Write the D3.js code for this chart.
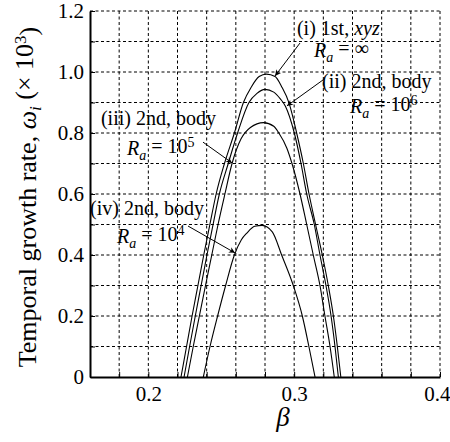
<!DOCTYPE html>
<html>
<head>
<meta charset="utf-8">
<script src="https://cdn.jsdelivr.net/npm/d3@7"></script>
<style>
  body { margin: 0; background: #fff; }
  svg { display: block; }
  text { font-family: "Liberation Serif", "Times New Roman", serif; fill: #000; }
</style>
</head>
<body>
<svg id="chart" width="450" height="442"></svg>
<script>
// ---- data (β, ω_i ×10^3) ----
const curveI = [[0.2224,0],[0.2262,0.1],[0.2300,0.2],[0.2340,0.3],[0.2380,0.4],[0.2422,0.5],[0.2465,0.6],[0.2522,0.7],[0.2590,0.8],[0.2652,0.9],[0.2705,0.95],[0.2760,0.985],[0.2810,0.993],[0.2869,0.985],[0.2914,0.952],[0.2965,0.898],[0.3017,0.8],[0.3063,0.7],[0.3102,0.6],[0.3147,0.5],[0.3193,0.4],[0.3234,0.3],[0.3269,0.2],[0.3296,0.1],[0.3320,0]];
const curveII = [[0.2245,0],[0.2283,0.1],[0.2322,0.2],[0.2362,0.3],[0.2402,0.4],[0.2444,0.5],[0.2487,0.6],[0.2548,0.7],[0.2612,0.8],[0.2690,0.9],[0.2745,0.93],[0.2800,0.943],[0.2860,0.934],[0.2905,0.912],[0.2940,0.888],[0.3001,0.8],[0.3047,0.7],[0.3086,0.6],[0.3138,0.5],[0.3177,0.4],[0.3218,0.3],[0.3253,0.2],[0.3280,0.1],[0.3303,0]];
const curveIII = [[0.2268,0],[0.2308,0.1],[0.2350,0.2],[0.2392,0.3],[0.2435,0.4],[0.2478,0.5],[0.2525,0.6],[0.2574,0.7],[0.2635,0.78],[0.2700,0.818],[0.2790,0.834],[0.2860,0.822],[0.2895,0.8],[0.2950,0.75],[0.2985,0.7],[0.3040,0.6],[0.3086,0.5],[0.3131,0.4],[0.3177,0.3],[0.3211,0.2],[0.3246,0.1],[0.3275,0]];
const curveIV = [[0.2377,0],[0.2423,0.1],[0.2475,0.2],[0.2530,0.3],[0.2590,0.4],[0.2638,0.45],[0.2674,0.471],[0.2730,0.494],[0.2780,0.497],[0.2850,0.476],[0.2914,0.4],[0.2994,0.3],[0.3056,0.2],[0.3101,0.1],[0.3143,0]];

const xTickLabels = [0.2, 0.3, 0.4];
const yTickLabels = [0, 0.2, 0.4, 0.6, 0.8, 1.0, 1.2];
const xGrid = d3.range(0.16, 0.4001, 0.02);
const yGrid = d3.range(0, 1.2001, 0.1);

// annotations: text anchor (β, ω) and arrow from/to in data units
const annotations = [
  { l1: ["(i) 1st, ", "xyz"], l2: "= ∞", sup: "", t1: [0.3019, 1.121], t2: [0.3136, 1.049], from: [0.3040, 1.095], to: [0.2869, 0.987] },
  { l1: ["(ii) 2nd, body", ""], l2: "= 10", sup: "6", t1: [0.3191, 0.946], t2: [0.3383, 0.866], from: [0.3198, 0.974], to: [0.2951, 0.889] },
  { l1: ["(iii) 2nd, body", ""], l2: "= 10", sup: "5", t1: [0.1675, 0.826], t2: [0.1854, 0.728], from: [0.2375, 0.770], to: [0.2574, 0.702] },
  { l1: ["(iv) 2nd, body", ""], l2: "= 10", sup: "4", t1: [0.1600, 0.531], t2: [0.1785, 0.439], from: [0.2272, 0.495], to: [0.2594, 0.407] }
];

// ---- layout ----
const svg = d3.select("#chart");
const margin = { left: 90, top: 11, right: 10, bottom: 65 };
const W = 450, H = 442;
const x = d3.scaleLinear().domain([0.16, 0.4]).range([margin.left, W - margin.right]);
const y = d3.scaleLinear().domain([0, 1.2]).range([H - margin.bottom, margin.top]);

// grid (dashed)
const grid = svg.append("g").attr("stroke", "#000").attr("stroke-width", 1).attr("stroke-dasharray", "3,2.5");
grid.selectAll("line.v").data(xGrid.slice(1)).join("line")
  .attr("x1", d => x(d)).attr("x2", d => x(d))
  .attr("y1", y(0)).attr("y2", y(1.2));
grid.selectAll("line.h").data(yGrid.slice(1)).join("line")
  .attr("y1", d => y(d)).attr("y2", d => y(d))
  .attr("x1", x(0.16)).attr("x2", x(0.4));

// curves
const line = d3.line().x(d => x(d[0])).y(d => y(d[1])).curve(d3.curveMonotoneX);
svg.append("g").selectAll("path").data([curveI, curveII, curveIII, curveIV]).join("path")
  .attr("d", line).attr("fill", "none").attr("stroke", "#000").attr("stroke-width", 1.1);

// axes
const isMajorY = v => yTickLabels.some(t => Math.abs(t - v) < 1e-6);
const isMajorX = v => xTickLabels.some(t => Math.abs(t - v) < 1e-6);
const yAxis = d3.axisLeft(y).tickValues(yGrid).tickSizeInner(-5).tickSizeOuter(0).tickPadding(6)
  .tickFormat(d => isMajorY(d) ? (Math.abs(d) < 1e-9 ? "0" : d3.format(".1f")(d)) : "");
const xAxis = d3.axisBottom(x).tickValues(xGrid).tickSizeInner(-5).tickSizeOuter(0).tickPadding(9)
  .tickFormat(d => isMajorX(d) ? d3.format(".1f")(d) : "");

const gy = svg.append("g").attr("transform", `translate(${margin.left},0)`).call(yAxis);
const gx = svg.append("g").attr("transform", `translate(0,${H - margin.bottom})`).call(xAxis);
[gx, gy].forEach(g => {
  g.select(".domain").attr("stroke", "#000").attr("stroke-width", 2);
  g.selectAll(".tick line").attr("stroke", "#000").attr("stroke-width", 1);
  g.selectAll(".tick text").attr("font-family", "'Liberation Serif', 'Times New Roman', serif")
    .attr("font-size", 21).attr("fill", "#000");
});
// keep the last x label inside the picture
gx.selectAll(".tick text").filter(d => Math.abs(d - 0.4) < 1e-6).attr("text-anchor", "end").attr("dx", 10);

// axis titles
const yl = svg.append("text").attr("transform", `translate(36,197) rotate(-90)`)
  .attr("text-anchor", "middle").attr("font-size", 26);
yl.append("tspan").text("Temporal growth rate, ");
yl.append("tspan").attr("font-style", "italic").text("ω");
yl.append("tspan").attr("font-style", "italic").attr("font-size", 17).attr("dy", "0.3em").text("i");
yl.append("tspan").attr("dy", "-0.3em").text(" (× 10");
yl.append("tspan").attr("font-size", 17).attr("dy", "-0.45em").text("3");
yl.append("tspan").attr("dy", "0.45em").text(")");

svg.append("text").attr("x", 283).attr("y", 426).attr("text-anchor", "middle")
  .attr("font-size", 27).attr("font-style", "italic").text("β");

// arrow marker
const defs = svg.append("defs");
defs.append("marker").attr("id", "arr").attr("viewBox", "0 0 10 10")
  .attr("refX", 10).attr("refY", 5).attr("markerWidth", 9).attr("markerHeight", 6)
  .attr("markerUnits", "userSpaceOnUse").attr("orient", "auto")
  .append("path").attr("d", "M0,0 L10,5 L0,10 L3,5 Z").attr("fill", "#000");

// annotations
const ga = svg.append("g");
annotations.forEach(a => {
  const t1 = ga.append("text").attr("x", x(a.t1[0])).attr("y", y(a.t1[1])).attr("font-size", 20);
  t1.append("tspan").text(a.l1[0]);
  if (a.l1[1]) t1.append("tspan").attr("font-style", "italic").text(a.l1[1]);
  const t2 = ga.append("text").attr("x", x(a.t2[0])).attr("y", y(a.t2[1])).attr("font-size", 20);
  t2.append("tspan").attr("font-style", "italic").text("R");
  t2.append("tspan").attr("font-style", "italic").attr("font-size", 14).attr("dy", "0.35em").text("a");
  t2.append("tspan").attr("dy", "-0.35em").text(" " + a.l2);
  if (a.sup) t2.append("tspan").attr("font-size", 14).attr("dy", "-0.4em").text(a.sup);
  ga.append("line").attr("x1", x(a.from[0])).attr("y1", y(a.from[1]))
    .attr("x2", x(a.to[0])).attr("y2", y(a.to[1]))
    .attr("stroke", "#000").attr("stroke-width", 1).attr("marker-end", "url(#arr)");
});
</script>
</body>
</html>
